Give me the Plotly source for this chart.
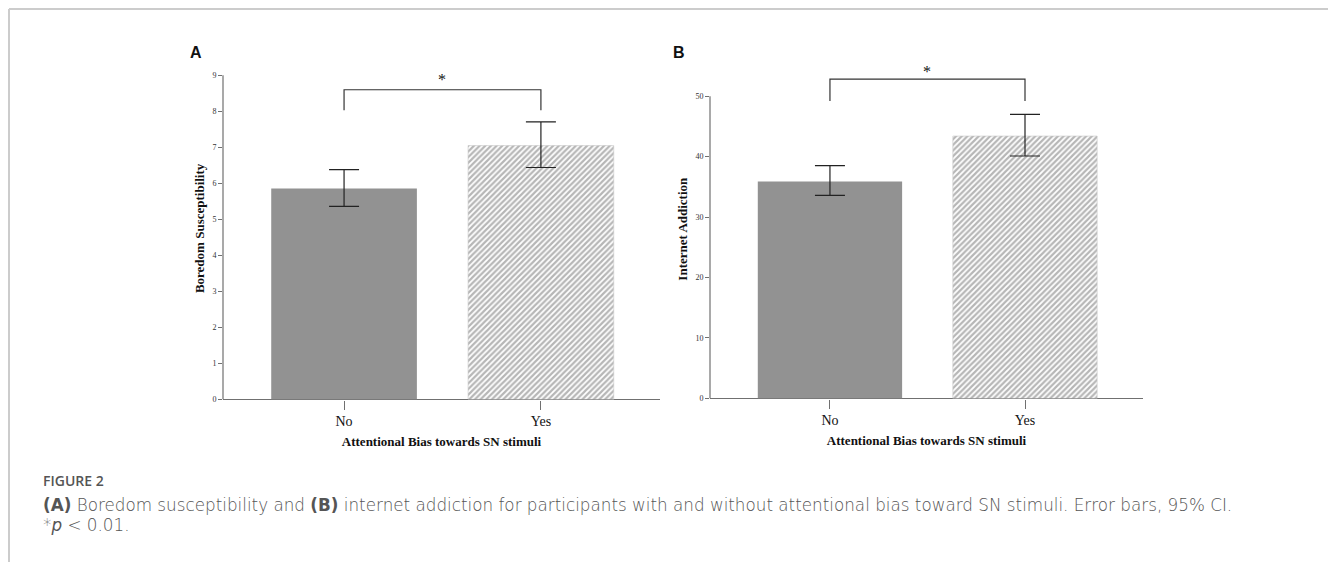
import plotly.graph_objects as go

OFF = 0
W, H = 1328, 567

categories = ["No", "Yes"]

# Panel A: Boredom susceptibility
a_means = [5.86, 7.05]
a_upper = [6.38, 7.71]
a_lower = [5.36, 6.44]
a_ticks = [0, 1, 2, 3, 4, 5, 6, 7, 8, 9]
a_bracket = [8.03, 8.6]
a_star = 8.88

# Panel B: Internet addiction
b_means = [35.9, 43.4]
b_upper = [38.5, 47.0]
b_lower = [33.6, 40.1]
b_ticks = [0, 10, 20, 30, 40, 50]
b_bracket = [49.2, 52.8]
b_star = 54.1

SERIF = "Liberation Serif, Times New Roman, serif"
SANS = "Liberation Sans, Arial, sans-serif"
CAP = "DejaVu Sans, Open Sans, sans-serif"
AXC = "#707070"
SOLID = "#929292"

def px_x(p):
    return (p - OFF) / W

def px_y(p):
    return 1 - (p - OFF) / H

panels = [
    dict(means=a_means, up=a_upper, lo=a_lower, ticks=a_ticks, br=a_bracket, star=a_star,
         xdom=[px_x(223), px_x(660)], y0=403, ytop_val=9, ytop_px=76, rng_top=9.5,
         ytitle="Boredom Susceptibility", letter="A", letter_x=196),
    dict(means=b_means, up=b_upper, lo=b_lower, ticks=b_ticks, br=b_bracket, star=b_star,
         xdom=[px_x(710), px_x(1143)], y0=402, ytop_val=50, ytop_px=97, rng_top=56,
         ytitle="Internet Addiction", letter="B", letter_x=679),
]

fig = go.Figure()
shapes = []
annotations = []
layout_axes = {}

for i, p in enumerate(panels):
    n = "" if i == 0 else str(i + 1)
    xa, ya = "x" + n, "y" + n
    scale = (p["y0"] - p["ytop_px"]) / p["ytop_val"]
    top_px = p["y0"] - p["rng_top"] * scale
    ydom = [px_y(p["y0"]), px_y(top_px)]

    plus = [u - m for u, m in zip(p["up"], p["means"])]
    minus = [m - l for m, l in zip(p["means"], p["lo"])]

    # solid bar (No)
    fig.add_trace(go.Bar(
        x=[categories[0]], y=[p["means"][0]], width=0.74,
        marker=dict(color=SOLID, line=dict(width=0)),
        error_y=dict(type="data", symmetric=False, array=[plus[0]], arrayminus=[minus[0]],
                     color="#222222", thickness=1.2, width=15),
        xaxis=xa, yaxis=ya, showlegend=False))
    # hatched bar (Yes)
    fig.add_trace(go.Bar(
        x=[categories[1]], y=[p["means"][1]], width=0.74,
        marker=dict(color="white", line=dict(width=0.6, color="#c8c8c8"),
                    pattern=dict(shape="/", fgcolor="#6e6e6e", bgcolor="white",
                                 size=4, solidity=0.55)),
        error_y=dict(type="data", symmetric=False, array=[plus[1]], arrayminus=[minus[1]],
                     color="#222222", thickness=1.2, width=15),
        xaxis=xa, yaxis=ya, showlegend=False))
    # significance bracket
    fig.add_trace(go.Scatter(
        x=[categories[0], categories[0], categories[1], categories[1]],
        y=[p["br"][0], p["br"][1], p["br"][1], p["br"][0]],
        mode="lines", line=dict(color="#333333", width=1.2),
        xaxis=xa, yaxis=ya, showlegend=False, hoverinfo="skip"))
    annotations.append(dict(x=0.5, y=p["star"], xref=xa, yref=ya, text="*",
                            showarrow=False, font=dict(family=SERIF, size=16, color="#111")))

    layout_axes["xaxis" + n] = dict(
        domain=p["xdom"], anchor=ya, range=[-0.615, 1.605], type="category",
        showline=True, linecolor=AXC, linewidth=1.2, showgrid=False, zeroline=False,
        ticks="outside", ticklen=9, tickcolor=AXC, tickwidth=1.2,
        tickfont=dict(family=SERIF, size=14, color="#111"),
        title=dict(text="<b>Attentional Bias towards SN stimuli</b>", standoff=8,
                   font=dict(family=SERIF, size=13, color="#111")),
        layer="below traces", fixedrange=True)
    layout_axes["yaxis" + n] = dict(
        domain=ydom, anchor=xa, range=[0, p["rng_top"]],
        showline=False, showgrid=False, zeroline=False,
        tickmode="array", tickvals=p["ticks"],
        ticks="outside", ticklen=4, tickcolor=AXC, tickwidth=1.2,
        tickfont=dict(family=SERIF, size=8, color="#333"),
        title=dict(text="<b>" + p["ytitle"] + "</b>", standoff=4,
                   font=dict(family=SERIF, size=13, color="#111")),
        fixedrange=True)
    # y axis line only up to the top tick
    shapes.append(dict(type="line", xref="paper", yref=ya,
                       x0=p["xdom"][0], x1=p["xdom"][0], y0=0, y1=p["ytop_val"],
                       line=dict(color=AXC, width=1.2)))
    annotations.append(dict(x=px_x(p["letter_x"]), y=px_y(53), xref="paper", yref="paper",
                            text="<b>" + p["letter"] + "</b>", showarrow=False,
                            xanchor="center", yanchor="middle",
                            font=dict(family=SANS, size=16, color="#111")))

# caption
annotations.append(dict(x=px_x(41), y=px_y(485), xref="paper", yref="paper",
                        text="FIGURE 2", showarrow=False, xanchor="left", yanchor="middle",
                        font=dict(family="Open Sans, sans-serif", size=14, color="#555", weight=600)))
annotations.append(dict(x=px_x(41), y=px_y(509), xref="paper", yref="paper",
                        text="<b>(A)</b> Boredom susceptibility and <b>(B)</b> internet addiction for participants with and without attentional bias toward SN stimuli. Error bars, 95% CI.",
                        showarrow=False, xanchor="left", yanchor="middle",
                        font=dict(family=CAP, size=16.8, color="#555", weight=200)))
annotations.append(dict(x=px_x(41), y=px_y(530), xref="paper", yref="paper",
                        text="*<i>p</i> &lt; 0.01.", showarrow=False, xanchor="left", yanchor="middle",
                        font=dict(family=CAP, size=16.8, color="#555", weight=200)))

# frame border (top and left)
shapes.append(dict(type="line", xref="paper", yref="paper", x0=px_x(9), x1=1.0,
                   y0=px_y(9), y1=px_y(9), line=dict(color="#cccccc", width=2)))
shapes.append(dict(type="line", xref="paper", yref="paper", x0=px_x(9), x1=px_x(9),
                   y0=px_y(9), y1=0, line=dict(color="#cccccc", width=2)))

fig.update_layout(
    width=W, height=H, margin=dict(l=0, r=0, t=0, b=0),
    paper_bgcolor="white", plot_bgcolor="white",
    barmode="overlay", showlegend=False,
    shapes=shapes, annotations=annotations, **layout_axes)

page_fix = (
    "document.documentElement.style.margin='0';"
    "document.documentElement.style.overflow='hidden';"
    "document.body.style.margin='0';"
    "document.body.style.overflow='hidden';"
)

fig.write_html("out.html", config={"displayModeBar": False}, post_script=page_fix)
